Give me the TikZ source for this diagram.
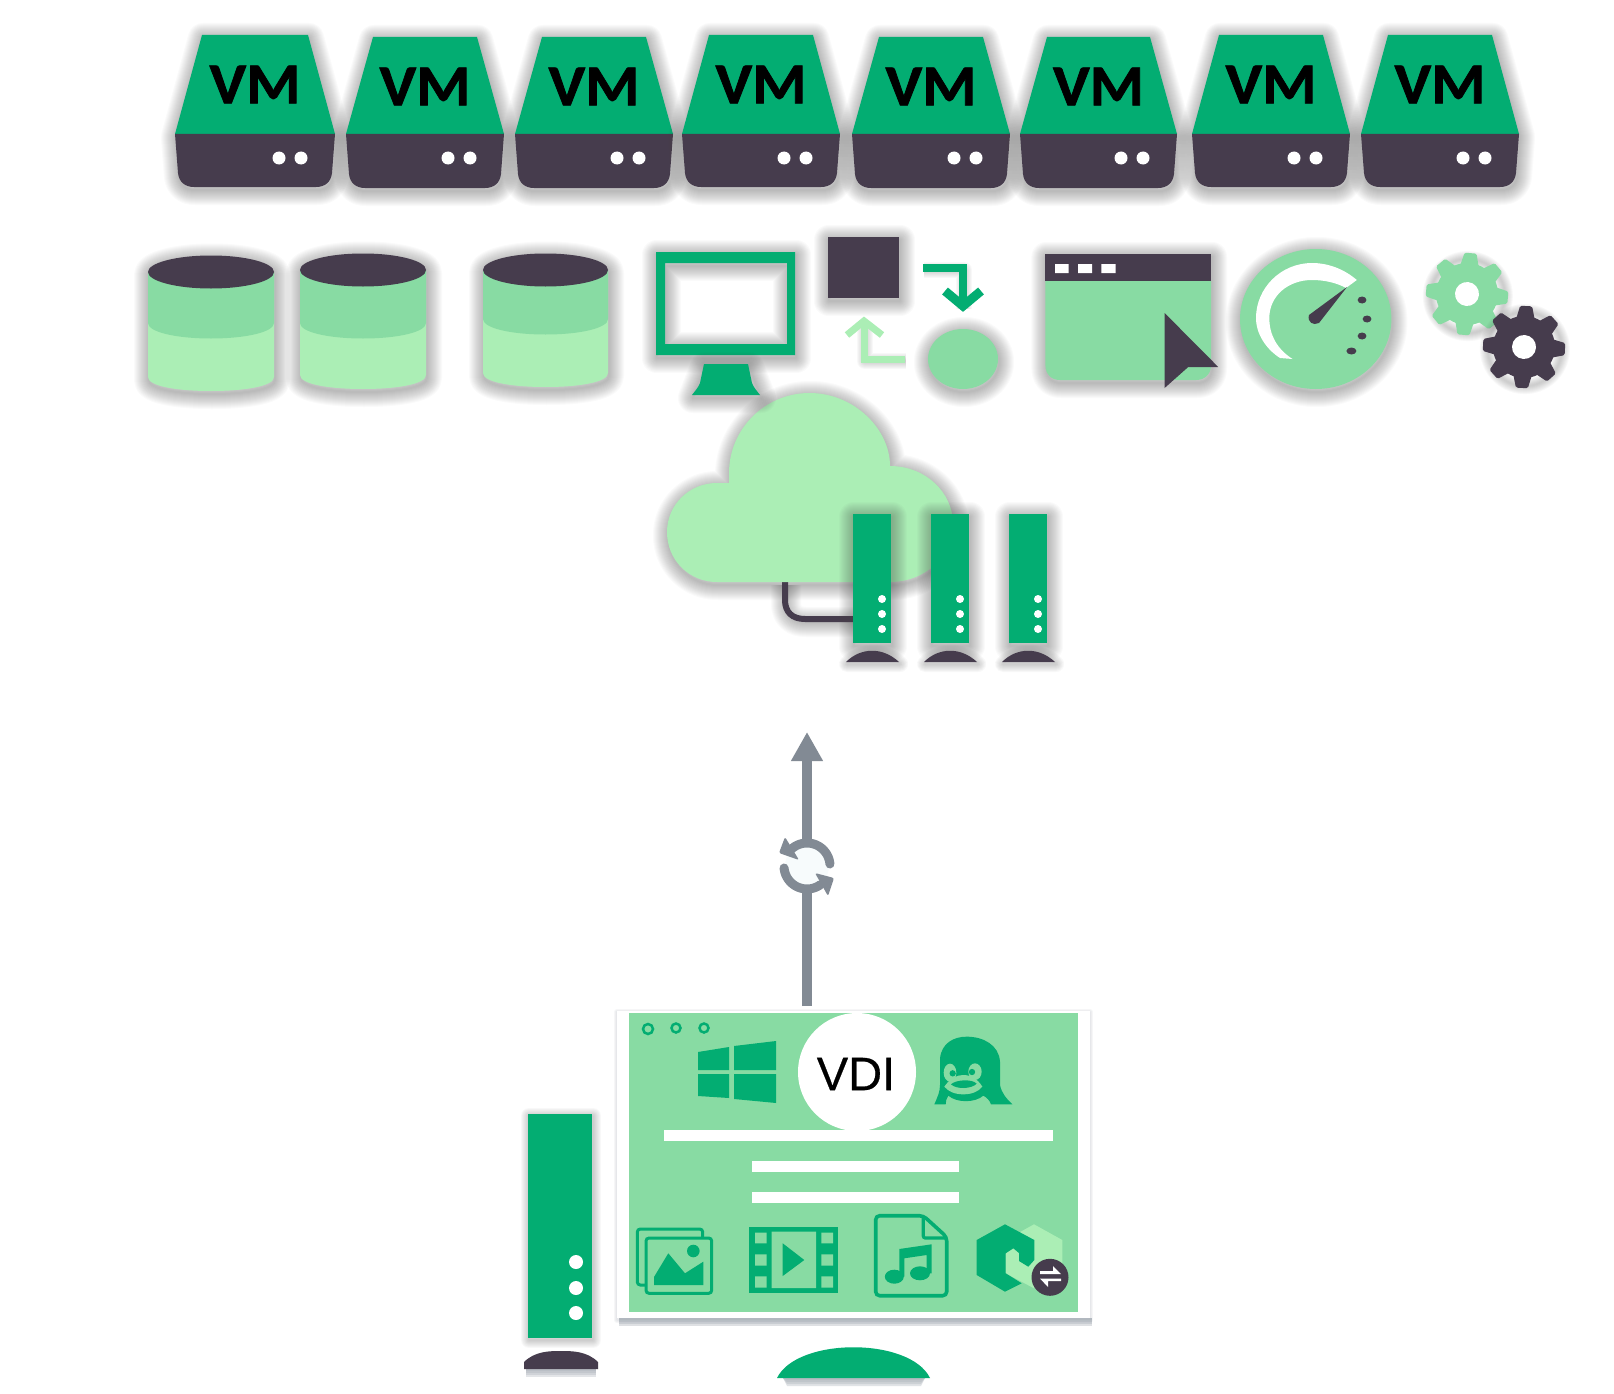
\documentclass[tikz,border=0pt]{standalone}
\usepackage{fontspec}
\usetikzlibrary{arrows.meta}
\setmainfont{Liberation Sans}
\newfontfamily\vmfont[BoldFeatures={FakeBold=1.2}]{Carlito}
\newfontfamily\vdifont[FakeBold=0.5]{Liberation Sans}
\definecolor{grn}{HTML}{03AD72}
\definecolor{midg}{HTML}{88DBA3}
\definecolor{lite}{HTML}{ABEEB5}
\definecolor{dark}{HTML}{463C4D}
\definecolor{arrowgray}{HTML}{828A94}
\definecolor{shadowgray}{HTML}{4A4A4A}
\definecolor{softgray}{HTML}{A9B0B8}
\definecolor{syncfill}{HTML}{F7FBFC}
\newcommand\softsh[1]{\foreach \sw in {2,4,...,30}{\draw[shadowgray,opacity=.028,line width=\sw pt,line join=round,xshift=1pt,yshift=-3pt] #1;}}
\newcommand\smallsh[1]{\foreach \sw in {2,4,...,16}{\draw[shadowgray,opacity=.035,line width=\sw pt,line join=round,xshift=1pt,yshift=-2pt] #1;}}
% VM drive: left, right, top, bottom, id
\newcommand\vmdrive[5]{%
  \softsh{(#1+27,#3) -- (#2-27,#3) -- (#2,134) -- (#2-3,#4-14) .. controls (#2-4,#4-5) and (#2-10,#4) .. (#2-19,#4) -- (#1+19,#4) .. controls (#1+10,#4) and (#1+4,#4-5) .. (#1+3,#4-14) -- (#1,134) -- cycle}
  \fill[grn] (#1+27,#3) -- (#2-27,#3) -- (#2,134) -- (#1,134) -- cycle;
  \fill[dark] (#1,134) -- (#2,134) -- (#2-3,#4-14) .. controls (#2-4,#4-5) and (#2-10,#4) .. (#2-19,#4) -- (#1+19,#4) .. controls (#1+10,#4) and (#1+4,#4-5) .. (#1+3,#4-14) -- cycle;
  \fill[white] (#2-56,158) circle (6.5) (#2-34,158) circle (6.5);
  \node[vmtext] (vm#5) at ({(#1+#2)/2},#3+49.5) {VM};
}
% cylinder: left, right, top centre, band side, bottom side
\newcommand\cyl[5]{%
  \pgfmathsetmacro\cx{(#1+#2)/2}
  \softsh{(#1,#3) -- (#1,#5) .. controls (#1,#5+9) and (\cx-35,#5+14) .. (\cx,#5+14) .. controls (\cx+35,#5+14) and (#2,#5+9) .. (#2,#5) -- (#2,#3) .. controls (#2,#3-9) and (\cx+35,#3-16.5) .. (\cx,#3-16.5) .. controls (\cx-35,#3-16.5) and (#1,#3-9) .. (#1,#3) -- cycle}
  \fill[lite] (#1,#3) -- (#1,#5) .. controls (#1,#5+9) and (\cx-35,#5+14) .. (\cx,#5+14) .. controls (\cx+35,#5+14) and (#2,#5+9) .. (#2,#5) -- (#2,#3) -- cycle;
  \fill[midg] (#1,#3) -- (#1,#4) .. controls (#1,#4+9) and (\cx-35,#4+15.5) .. (\cx,#4+15.5) .. controls (\cx+35,#4+15.5) and (#2,#4+9) .. (#2,#4) -- (#2,#3) -- cycle;
  \fill[dark] (\cx,#3) ellipse [x radius={(#2-#1)/2}, y radius=16.5];
}
% small server: left, right
\newcommand\rack[2]{%
  \softsh{(#1,514) rectangle (#2,643)}
  \fill[grn] (#1,514) rectangle (#2,643);
  \fill[white] (#2-9,599) circle (4) (#2-9,614) circle (4) (#2-9,629) circle (4);
  \smallsh{(#1-7,662) .. controls (#1+8,647) and (#2-8,647) .. (#2+8,662) -- cycle}
  \fill[dark] (#1-7,662) .. controls (#1+8,647) and (#2-8,647) .. (#2+8,662) -- cycle;
}
% gear: x, y, rotation, colour, hole
\newcommand\gearwheel[5]{%
  \begin{scope}[shift={(#1,#2)},rotate=#3]
    \smallsh{(0,0) circle (37)}
    \fill[#4] (0,0) circle (31);
    \foreach \ga in {0,45,...,315}{
      \fill[#4,rotate=\ga,rounded corners=1.5pt] (27,-9.5) -- (41,-6) -- (41,6) -- (27,9.5) -- cycle;
    }
    \fill[white] (0,0) circle (#5);
  \end{scope}
}
\tikzset{
  vmtext/.style={font=\vmfont\bfseries\fontsize{58}{60}\selectfont,text=black,inner sep=0pt,transform shape,xscale=1.07},
  lbltext/.style={font=\vdifont\fontsize{47}{50}\selectfont,text=black,inner sep=0pt}
}
\begin{document}
\begin{tikzpicture}[x=1pt,y=-1pt]
\useasboundingbox (0,0) rectangle (1614,1394);
\fill[white] (0,0) rectangle (1614,1394);

% VM row
\vmdrive{175}{335}{35}{187}{1}
\vmdrive{346}{504}{37}{188}{2}
\vmdrive{515}{673}{37}{188}{3}
\vmdrive{682}{840}{35}{187}{4}
\vmdrive{852}{1010}{37}{188}{5}
\vmdrive{1020}{1177}{37}{188}{6}
\vmdrive{1192}{1350}{35}{187}{7}
\vmdrive{1361}{1519}{35}{187}{8}

% cylinders
\cyl{148}{274}{272}{323}{377}
\cyl{300}{426}{270}{323}{375}
\cyl{483}{608}{270}{319}{373}

% cloud
\softsh{(717,582) .. controls (689,582) and (667,560) .. (667,532) .. controls (667,505) and (689,483) .. (717,483) -- (729,483) -- (729,473) .. controls (729,429) and (765,393) .. (809.5,393) .. controls (854,393) and (890,429) .. (890,466) .. controls (925,466) and (953,492) .. (953,524) .. controls (953,556) and (925,582) .. (890,582) -- cycle}
\softsh{(785,582) -- (785,600) .. controls (785,612) and (792,619) .. (805,619) -- (853,619)}
\draw[dark,line width=6pt] (785,580) -- (785,600) .. controls (785,612) and (792,619) .. (805,619) -- (855,619);
\fill[lite] (717,582) .. controls (689,582) and (667,560) .. (667,532) .. controls (667,505) and (689,483) .. (717,483) -- (729,483) -- (729,473) .. controls (729,429) and (765,393) .. (809.5,393) .. controls (854,393) and (890,429) .. (890,466) .. controls (925,466) and (953,492) .. (953,524) .. controls (953,556) and (925,582) .. (890,582) -- cycle;
\rack{853}{891}
\rack{931}{969}
\rack{1009}{1047}

% monitor
\softsh{(656,252) rectangle (795,355)}
\fill[white] (665,263) rectangle (787,344);
\begin{scope}
  \clip (665,263) rectangle (787,344);
  \softsh{(665,263) rectangle (787,344)}
\end{scope}
\fill[grn,even odd rule] (656,252) rectangle (795,355) (665,263) rectangle (787,344);
\softsh{(704,364) -- (748,364) -- (760,395) -- (692,395) -- cycle}
\fill[grn] (704,364) -- (748,364) -- (752,383) .. controls (754,388) and (757,391) .. (760,395) -- (692,395) .. controls (695,391) and (698,388) .. (700,383) -- cycle;

% square, circle and arrows
\softsh{(828,237) rectangle (899,298)}
\fill[dark] (828,237) rectangle (899,298);
\softsh{(963,359) ellipse [x radius=35, y radius=30]}
\fill[midg] (963,359) ellipse [x radius=35, y radius=30];
\smallsh{(923,268) -- (963,268) -- (963,307)}
\draw[grn,line width=8.5pt] (923,268) -- (963,268) -- (963,306);
\draw[grn,line width=9pt,miter limit=4] (945,291) -- (963,306) -- (981,291);
\smallsh{(905,359) -- (864,359) -- (864,322)}
\draw[lite,line width=7pt] (905,359) -- (864,359) -- (864,322);
\draw[lite,line width=7pt] (847,335) -- (864,321) -- (882,335);

% window
\softsh{(1045.4,254) -- (1211,254) -- (1211,365) .. controls (1211,374) and (1205,380) .. (1196,380) -- (1060,380) .. controls (1051,380) and (1045.4,374) .. (1045.4,365) -- cycle}
\fill[midg] (1045.4,281) -- (1211,281) -- (1211,365) .. controls (1211,374) and (1205,380) .. (1196,380) -- (1060,380) .. controls (1051,380) and (1045.4,374) .. (1045.4,365) -- cycle;
\fill[dark] (1045.4,254) rectangle (1211,281);
\fill[white] (1055,264) rectangle (1068.6,273) (1078,264) rectangle (1092,273) (1101.4,264) rectangle (1115.7,273);
\fill[dark] (1164.6,313) -- (1218.2,367) -- (1188.2,367) -- (1164.6,388) -- cycle;

% gauge
\softsh{(1315.7,319) ellipse [x radius=75.7, y radius=70]}
\fill[midg] (1315.7,319) ellipse [x radius=75.7, y radius=70];
\fill[white] (1356.8,280) .. controls (1344,269) and (1328,263) .. (1312,263) .. controls (1281,263) and (1256,288) .. (1256,318) .. controls (1256,334) and (1266,349) .. (1280,358) -- (1292.5,359) .. controls (1277,349) and (1269.3,335) .. (1269.3,318) .. controls (1269.3,296) and (1288,280) .. (1312,280) .. controls (1325,280) and (1337,283) .. (1346,288) -- cycle;
\fill[dark] (1347,287) -- (1319,323) .. controls (1313,326) and (1307,322) .. (1309,315) -- cycle;
\fill[dark] (1362,300) ellipse [x radius=4.4, y radius=3.5] (1367,319) ellipse [x radius=4.4, y radius=3.5] (1362,336) ellipse [x radius=4.4, y radius=3.5] (1351.4,351) ellipse [x radius=5, y radius=3.5];

% gears
\gearwheel{1467}{294}{-5}{midg}{12}
\gearwheel{1524}{347}{-3}{dark}{12}

% connector
\coordinate (panelTop) at (807,1006);
\coordinate (cloudFoot) at (807,732);
\draw[arrowgray,line width=10pt,-{Triangle[length=29pt,width=30pt]}] (panelTop) -- (cloudFoot);
% sync icon
\fill[syncfill] (807,866) circle (22);
\draw[arrowgray,line width=9pt,line cap=round] plot[domain=5:135,samples=30] ({807+23*cos(\x)},{866-23*sin(\x)});
\draw[arrowgray,line width=9pt,line cap=round] plot[domain=185:305,samples=30] ({807+23*cos(\x)},{866-23*sin(\x)});
\fill[arrowgray,rounded corners=2pt] (785,837) -- (779,853) -- (799,860) -- cycle;
\fill[arrowgray,rounded corners=2pt] (815,873) -- (834,878) -- (828,896) -- cycle;

% VDI panel
\foreach \sw in {2,4,6}{\draw[softgray,opacity=.10,line width=\sw pt,line join=round] (617,1012) rectangle (1090,1320);}
\foreach \sh in {2,4,6,8}{\fill[softgray,opacity=.38] (619,1318) rectangle (1092,1318+\sh);}
\fill[white] (617,1011) rectangle (1090,1318);
\fill[midg] (629,1013) rectangle (1078,1312);
\draw[grn,line width=2.5pt] (648,1029) circle (5) (676,1028) circle (4.5) (704,1028) circle (4.5);
% windows logo
\fill[grn] (698,1052) -- (729,1047) -- (729,1070) -- (698,1070) -- cycle
           (734,1046) -- (776,1041) -- (776,1070) -- (734,1070) -- cycle
           (698,1074) -- (729,1074) -- (729,1098) -- (698,1096) -- cycle
           (734,1074) -- (776,1074) -- (776,1103) -- (734,1099) -- cycle;
% VDI badge
\fill[white] (857,1072) circle (59);
\node[lbltext] (vdi) at (856,1074) {VDI};
% penguin
\begin{scope}[shift={(925,1025)},x=.3333pt,y=-.3333pt]
  \fill[grn] (28,238) .. controls (38,215) and (45,200) .. (45,180) -- (45,100) .. controls (50,55) and (85,35) .. (125,35) .. controls (175,35) and (222,60) .. (225,110) -- (225,180) .. controls (230,205) and (245,222) .. (262,238) -- (198,238) .. controls (194,226) and (186,218) .. (175,212) .. controls (150,234) and (95,234) .. (70,212) .. controls (64,220) and (62,230) .. (62,238) -- cycle;
  \fill[midg] (75,143) ellipse [x radius=19, y radius=27] (150,140) ellipse [x radius=20, y radius=25];
  \fill[grn] (83,145) circle (9.5) (141,141) circle (9.5);
  \fill[midg] (58,185) .. controls (75,160) and (95,150) .. (115,150) .. controls (140,150) and (160,165) .. (172,185) .. controls (160,200) and (140,208) .. (115,208) .. controls (90,208) and (70,200) .. (58,185) -- cycle;
  \fill[grn] (78,178) .. controls (90,165) and (140,160) .. (155,176) .. controls (140,192) and (95,194) .. (78,178) -- cycle;
\end{scope}
% text bars
\fill[white] (664.3,1130) rectangle (1053,1141);
\fill[white] (752,1160.7) rectangle (959,1172);
\fill[white] (752,1192) rectangle (959,1203);
% image icon
\draw[grn,line width=3pt,rounded corners=3pt] (646,1285) -- (637.3,1285) -- (637.3,1229) -- (702.7,1229) -- (702.7,1238);
\draw[grn,line width=3pt,rounded corners=3pt] (646,1238) rectangle (711.7,1293.3);
\fill[grn] (654,1285) -- (654,1277) -- (668.3,1253.3) -- (685,1273.3) -- (703.3,1261.7) -- (703.3,1285) -- cycle;
\fill[grn] (693.3,1251) circle (6.3);
% film icon
\fill[grn] (749.3,1227) rectangle (838,1293);
\fill[midg] (755,1232.7) rectangle (766.7,1243.3) (755,1254.3) rectangle (766.7,1265.7) (755,1276.3) rectangle (766.7,1287.7)
            (821.3,1232.7) rectangle (833,1243.3) (821.3,1254.3) rectangle (833,1265.7) (821.3,1276.3) rectangle (833,1287.7)
            (771.7,1231.7) rectangle (816,1288);
\fill[grn] (782.7,1243.3) -- (804.3,1260) -- (782.7,1276) -- cycle;
% music file icon
\draw[grn,line width=3.6pt,rounded corners=4pt] (900,1215.7) -- (923.3,1215.7) -- (946.7,1237) -- (946.7,1295.7) -- (875.7,1295.7) -- (875.7,1215.7) -- cycle;
\draw[grn,line width=3.2pt,rounded corners=2pt] (923.3,1216) -- (923.3,1238) -- (946,1238);
\fill[grn] (899.3,1276.7) -- (899.3,1249) -- (931.7,1244.3) -- (931.7,1273.3) -- (926.7,1273.3) -- (926.7,1255) -- (904.3,1258.3) -- (904.3,1276.7) -- cycle;
\fill[grn] (894.3,1276.7) ellipse [x radius=9.5, y radius=7] (920,1273.3) ellipse [x radius=10, y radius=7];
% hexagons
\fill[lite] (1034,1224.3) -- (1062.3,1240) -- (1062.3,1273.3) -- (1034,1288.3) -- (1005.7,1273.3) -- (1005.7,1240) -- cycle;
\fill[grn] (1005,1224.3) -- (1034.3,1240) -- (1034.3,1260) -- (1028.3,1266.7) -- (1019,1261) -- (1019,1253) -- (1013.3,1248.3) -- (1005.7,1253.3) -- (1005.7,1273.3) -- (1021.7,1283.3) -- (1005,1291.7) -- (976.7,1275) -- (976.7,1240) -- cycle;
\fill[dark] (1050,1277.3) circle (18.5);
\fill[white] (1040,1271) -- (1053,1271) -- (1053,1266) -- (1061,1274) -- (1040,1274) -- cycle;
\fill[white] (1061,1281) -- (1048,1281) -- (1048,1287) -- (1040,1278.5) -- (1061,1278.5) -- cycle;

% base of panel
\foreach \sh in {2,4,6,8}{\fill[softgray,opacity=.35] (783,1378) -- (925,1378) -- (921,1378+\sh) -- (787,1378+\sh) -- cycle;}
\fill[grn] (777,1378) .. controls (797,1337) and (910,1337) .. (930,1378) -- cycle;

% left server
\smallsh{(528,1114) rectangle (592,1338)}
\fill[grn] (528,1114) rectangle (592,1338);
\fill[white] (576,1262) circle (7) (576,1288) circle (7) (576,1313) circle (7);
\foreach \sh in {2,4,6,8}{\fill[softgray,opacity=.32] (526,1369) rectangle (596,1369+\sh);}
\fill[dark] (524,1369) -- (524,1362) .. controls (535,1351) and (550,1351) .. (561,1351) .. controls (572,1351) and (587,1351) .. (598,1362) -- (598,1369) -- cycle;
\end{tikzpicture}
\end{document}
